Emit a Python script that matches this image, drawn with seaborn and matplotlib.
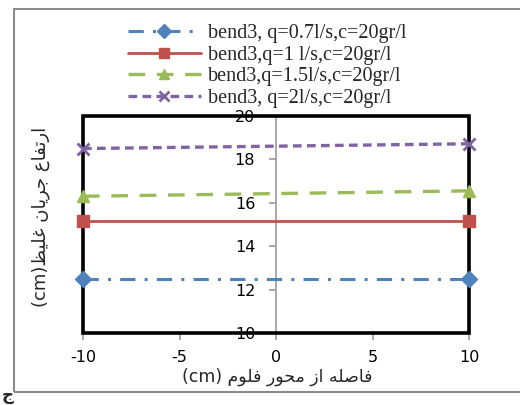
import matplotlib
matplotlib.use("Agg")
import matplotlib.pyplot as plt
import seaborn as sns
import pandas as pd
from matplotlib.patches import Rectangle

# ---------------- data ----------------
x_vals = [-10, 10]
q07 = [12.5, 12.5]
q1 = [15.15, 15.15]
q15 = [16.3, 16.55]
q2 = [18.5, 18.72]
labels = ["bend3, q=0.7l/s,c=20gr/l", "bend3,q=1 l/s,c=20gr/l",
          "bend3,q=1.5l/s,c=20gr/l", "bend3, q=2l/s,c=20gr/l"]
x_ticks = [-10, -5, 0, 5, 10]
y_ticks = [10, 12, 14, 16, 18, 20]
xlabel_fa = "فاصله از محور فلوم"
ylabel_fa = "ارتفاع جریان غلیظ"

# ------------- minimal Arabic/Persian shaping -------------
FORMS = {
    'ا': (0xFE8D, 0xFE8E), 'ر': (0xFEAD, 0xFEAE), 'ز': (0xFEAF, 0xFEB0),
    'و': (0xFEED, 0xFEEE),
    'ب': (0xFE8F, 0xFE90, 0xFE91, 0xFE92), 'ت': (0xFE95, 0xFE96, 0xFE97, 0xFE98),
    'ج': (0xFE9D, 0xFE9E, 0xFE9F, 0xFEA0), 'ح': (0xFEA1, 0xFEA2, 0xFEA3, 0xFEA4),
    'ص': (0xFEB9, 0xFEBA, 0xFEBB, 0xFEBC), 'ظ': (0xFEC5, 0xFEC6, 0xFEC7, 0xFEC8),
    'ع': (0xFEC9, 0xFECA, 0xFECB, 0xFECC), 'غ': (0xFECD, 0xFECE, 0xFECF, 0xFED0),
    'ف': (0xFED1, 0xFED2, 0xFED3, 0xFED4), 'ل': (0xFEDD, 0xFEDE, 0xFEDF, 0xFEE0),
    'م': (0xFEE1, 0xFEE2, 0xFEE3, 0xFEE4), 'ن': (0xFEE5, 0xFEE6, 0xFEE7, 0xFEE8),
    'ه': (0xFEE9, 0xFEEA, 0xFEEB, 0xFEEC), 'ی': (0xFEEF, 0xFEF0, 0xFEF3, 0xFEF4),
}


def shape_rtl(s):
    out = []
    for i, c in enumerate(s):
        if c not in FORMS:
            out.append(c)
            continue
        prev = s[i - 1] if i > 0 else ''
        nxt = s[i + 1] if i + 1 < len(s) else ''
        jp = prev in FORMS and len(FORMS[prev]) == 4
        jn = len(FORMS[c]) == 4 and nxt in FORMS
        f = FORMS[c]
        if jp and jn:
            g = f[3]
        elif jp:
            g = f[1]
        elif jn:
            g = f[2]
        else:
            g = f[0]
        out.append(chr(g))
    return ''.join(reversed(out))


# ---------------- figure ----------------
sns.set_theme(style="white")
plt.rcParams['font.family'] = ['DejaVu Sans']
plt.rcParams['axes.unicode_minus'] = False

fig = plt.figure(figsize=(5.2, 4.05), dpi=100)
ax = fig.add_axes([83 / 520, 1 - 333 / 405, (469 - 83) / 520, (333 - 116) / 405])

blue, red, green, purple = "#4F81BD", "#C0504D", "#9BBB59", "#8064A2"

series = [
    (q07, blue, 'D', 8, 2.2, (0, (5, 3, 1, 3))),
    (q1, red, 's', 9, 2.0, '-'),
    (q15, green, '^', 9, 2.4, (0, (5, 3.5))),
    (q2, purple, 'x', 8, 2.4, (0, (2.6, 1.6))),
]
for (vals, col, mk, ms, lw, ls), lab in zip(series, labels):
    df = pd.DataFrame({"x": x_vals, "y": vals})
    sns.lineplot(data=df, x="x", y="y", ax=ax, color=col, marker=mk,
                 markersize=ms, linewidth=lw, linestyle=ls, label=lab,
                 markeredgecolor=col, markeredgewidth=2 if mk == 'x' else 1,
                 clip_on=False, zorder=5)

ax.set_xlim(-10, 10)
ax.set_ylim(10, 20)
ax.set_xticks(x_ticks)
ax.set_yticks(y_ticks)
ax.set_xlabel("")
ax.set_ylabel("")

# y axis at x = 0, grey
for s in ['top', 'right', 'bottom']:
    ax.spines[s].set_visible(False)
ax.spines['left'].set_position(('data', 0))
ax.spines['left'].set_color('#999999')
ax.spines['left'].set_linewidth(1.2)
ax.spines['left'].set_zorder(1)

ax.tick_params(axis='both', which='both', direction='out', color='#999999',
               length=5, width=1.2, labelsize=11.5, labelcolor='black')
ax.tick_params(axis='y', pad=10, left=True)
ax.tick_params(axis='x', pad=7, bottom=True)

# thick black box around the plot area
ax.add_patch(Rectangle((0, 0), 1, 1, transform=ax.transAxes, fill=False,
                       edgecolor='black', linewidth=2.6, clip_on=False, zorder=3))

# axis titles (Persian)
fig.text(277 / 520, 1 - 377 / 405, "(cm) " + shape_rtl(xlabel_fa),
         ha='center', va='center', fontsize=12.5)
fig.text(41 / 520, 1 - 217 / 405, "(cm)" + shape_rtl(ylabel_fa),
         ha='center', va='center', rotation=90, fontsize=13)

# outer grey frame
fig.add_artist(Rectangle((14 / 520, 1 - 392 / 405), 1.2, (392 - 9) / 405,
                         transform=fig.transFigure, fill=False,
                         edgecolor='#8c8c8c', linewidth=1.5, clip_on=False))
fig.text(0.004, 0.002, chr(0xFE9D), fontsize=12, fontweight='bold',
         ha='left', va='bottom')

# legend
leg = ax.legend(loc='upper left', bbox_to_anchor=(128 / 520, 1 - 24 / 405),
                bbox_transform=fig.transFigure, frameon=False,
                prop={'family': 'Liberation Serif', 'size': 14.5},
                handlelength=3.6, handletextpad=0.35, labelspacing=0.12,
                borderpad=0, borderaxespad=0, numpoints=1, markerscale=0.85)
leg.set_zorder(10)

fig.savefig("out.png", dpi=100)
